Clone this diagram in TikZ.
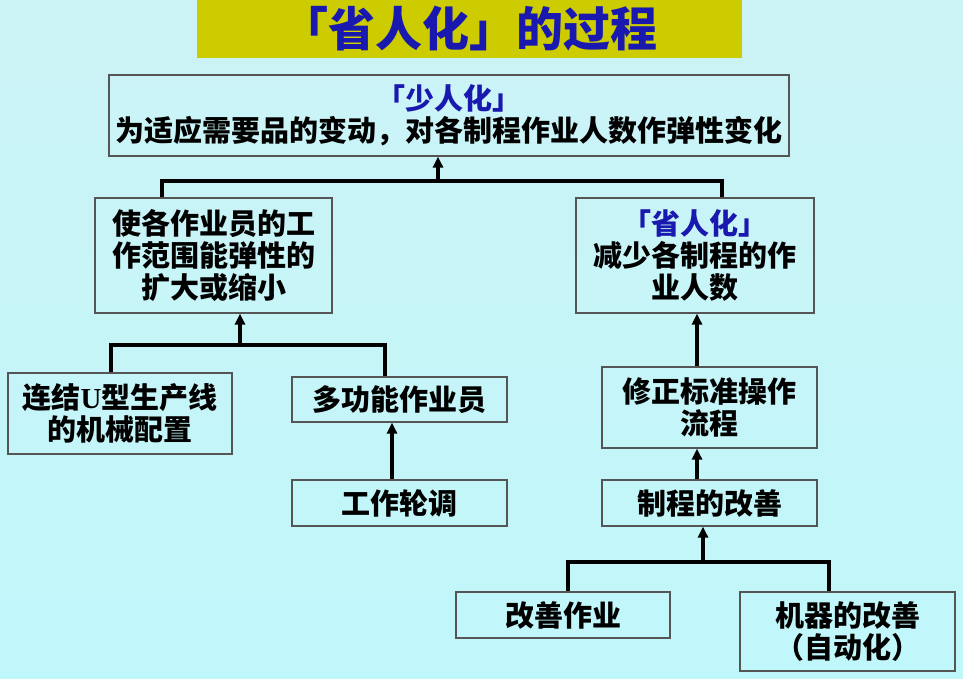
\documentclass[tikz,border=0pt]{standalone}
\usepackage{fontspec}
\setmainfont{Noto Sans CJK SC}
\newfontfamily\serifU{Liberation Serif}
\usetikzlibrary{arrows.meta}
\definecolor{titleBg}{RGB}{204,204,0}
\definecolor{titleBlue}{RGB}{25,25,175}
\definecolor{boxLine}{RGB}{85,85,85}
\definecolor{bgTop}{RGB}{204,243,246}
\definecolor{bgMid}{RGB}{240,253,253}
\definecolor{bgBot}{RGB}{192,247,250}
\begin{document}
\begin{tikzpicture}[
    x=1pt,y=-1pt,
    flowBox/.style={draw=boxLine,line width=1.2pt,minimum width=215,minimum height=46,inner sep=1pt,align=center,font=\bfseries\fontsize{29}{32}\selectfont},
    flowLink/.style={line width=3.5pt},
    flowArrow/.style={line width=3.5pt,-{Triangle[width=10pt,length=11pt]}},
]
% background
\shade[top color=bgTop,middle color=bgMid,bottom color=bgBot] (0,0) rectangle (963,678);
% title
\node[fill=titleBg,minimum width=545,minimum height=58,inner sep=0pt,text=titleBlue,font=\bfseries\fontsize{47}{50}\selectfont] (title) at (469.5,29) {「省人化」的过程};
% boxes
\node[flowBox,minimum width=680,minimum height=81] (top) at (449,115.5) {\textcolor{titleBlue}{「少人化」}\\为适应需要品的变动，对各制程作业人数作弹性变化};
\node[flowBox,minimum width=237,minimum height=115] (lmid) at (213.5,255.5) {使各作业员的工\\作范围能弹性的\\扩大或缩小};
\node[flowBox,minimum width=238,minimum height=115] (rmid) at (695,255.5) {\textcolor{titleBlue}{「省人化」}\\减少各制程的作\\业人数};
\node[flowBox,minimum width=224,minimum height=81] (uline) at (120,413.5) {连结{\serifU U}型生产线\\的机械配置};
\node[flowBox,minimum height=45] (multi) at (399.5,399.5) {多功能作业员};
\node[flowBox] (rotate) at (399.5,503) {工作轮调};
\node[flowBox,minimum height=81] (revise) at (709.5,407.5) {修正标准操作\\流程};
\node[flowBox] (process) at (709.5,503) {制程的改善};
\node[flowBox,minimum width=214] (kaizen) at (563,615) {改善作业};
\node[flowBox,minimum height=79] (machine) at (847.5,631.5) {机器的改善\\（自动化）};
% connectors
\coordinate (jTop) at (438,181);
\coordinate (jMid) at (240,345);
\coordinate (jLow) at (703,562);
\draw[flowLink] ([xshift=-51.5pt]lmid.north) |- (jTop) -| ([xshift=27pt]rmid.north);
\draw[flowArrow] (jTop) -- (jTop |- top.south);
\draw[flowLink] ([xshift=-9pt]uline.north) |- (jMid) -| ([xshift=-14.5pt]multi.north);
\draw[flowArrow] (jMid) -- (jMid |- lmid.south);
\draw[flowArrow] ([xshift=-7.5pt]rotate.north) -- ([xshift=-7.5pt]multi.south);
\draw[flowArrow] ([xshift=-12.5pt]revise.north) -- ([xshift=2pt]rmid.south);
\draw[flowArrow] ([xshift=-12.5pt]process.north) -- ([xshift=-12.5pt]revise.south);
\draw[flowLink] ([xshift=5pt]kaizen.north) |- (jLow) -| ([xshift=-18.5pt]machine.north);
\draw[flowArrow] (jLow) -- (jLow |- process.south);
\end{tikzpicture}
\end{document}
